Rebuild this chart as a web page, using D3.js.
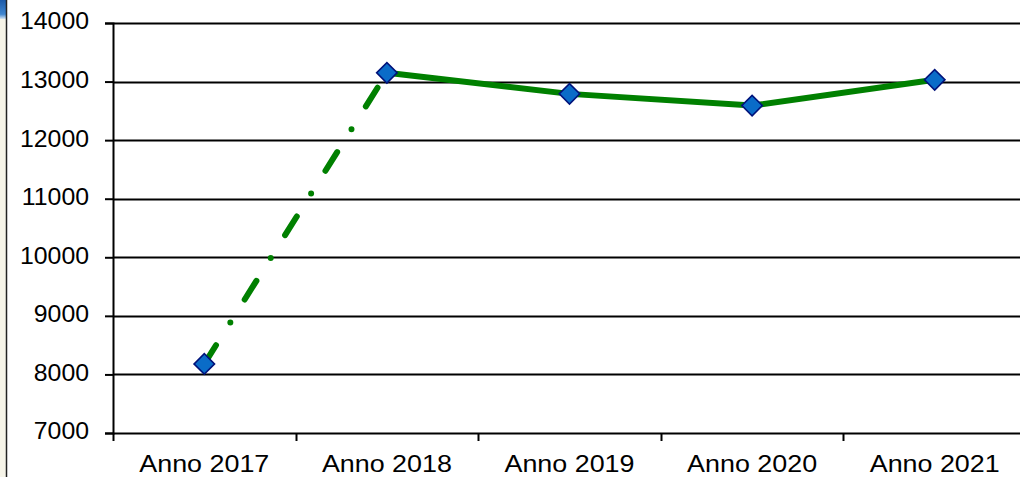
<!DOCTYPE html>
<html>
<head>
<meta charset="utf-8">
<script src="https://cdn.jsdelivr.net/npm/d3@7"></script>
<style>
  html, body { margin: 0; padding: 0; background: #fff; overflow: hidden; }
  svg { display: block; }
  text { font-family: "Liberation Sans", Arial, sans-serif; fill: #000; }
</style>
</head>
<body>
<div id="chart"></div>
<script>
// Chart data
const categories = ["Anno 2017", "Anno 2018", "Anno 2019", "Anno 2020", "Anno 2021"];
const values = [8180, 13150, 12790, 12590, 13030];
const yTicks = [7000, 8000, 9000, 10000, 11000, 12000, 13000, 14000];

const width = 1020;
const height = 477;
const margin = { left: 113, top: 23, bottom: 433 };

const svg = d3.select("#chart")
  .append("svg")
  .attr("width", width)
  .attr("height", height);

// left strip from the source window
svg.append("rect").attr("x", 0).attr("y", 0).attr("width", 6).attr("height", height).attr("fill", "#f6f4e8");
const grad = svg.append("defs").append("linearGradient")
  .attr("id", "corner").attr("x1", 0).attr("y1", 0).attr("x2", 0).attr("y2", 1);
grad.append("stop").attr("offset", "0%").attr("stop-color", "#1c5aa8");
grad.append("stop").attr("offset", "75%").attr("stop-color", "#3f86d0");
grad.append("stop").attr("offset", "100%").attr("stop-color", "#d8e6f2");
svg.append("rect").attr("x", 0).attr("y", 0).attr("width", 6).attr("height", 19).attr("fill", "url(#corner)");
svg.append("line").attr("x1", 6.5).attr("x2", 6.5).attr("y1", 0).attr("y2", height)
  .attr("stroke", "#222").attr("stroke-width", 1.5);

// scales
const x = d3.scaleBand()
  .domain(categories)
  .range([margin.left, margin.left + 5 * 182.6]);

const y = d3.scaleLinear()
  .domain([7000, 14000])
  .range([margin.bottom, margin.top]);

// gridlines
svg.append("g")
  .selectAll("line")
  .data(yTicks.slice(1))
  .enter()
  .append("line")
  .attr("x1", margin.left)
  .attr("x2", width)
  .attr("y1", d => Math.round(y(d)) + 0.5)
  .attr("y2", d => Math.round(y(d)) + 0.5)
  .attr("stroke", "#000")
  .attr("stroke-width", 2);

// y axis
const yAxis = svg.append("g")
  .attr("transform", `translate(${margin.left},0)`)
  .call(d3.axisLeft(y).tickValues(yTicks).tickSize(8).tickFormat(d3.format("d")));
yAxis.select(".domain").attr("stroke", "#000").attr("stroke-width", 2);
yAxis.selectAll(".tick line").attr("stroke", "#000").attr("stroke-width", 2);
yAxis.selectAll(".tick text")
  .attr("x", -22.2)
  .attr("dy", "0.26em")
  .style("font-size", "23px")
  .attr("transform", "scale(1.08,1)");

// x axis
const xAxis = svg.append("g")
  .attr("transform", `translate(0,${Math.round(margin.bottom) + 0.5})`)
  .call(d3.axisBottom(x).tickSize(0).tickSizeOuter(0));
xAxis.select(".domain").attr("stroke", "#000").attr("stroke-width", 2)
  .attr("d", `M${margin.left},0H${width}`);
xAxis.selectAll(".tick text")
  .attr("y", 0)
  .attr("x", 0)
  .attr("dy", 38.5)
  .attr("text-anchor", "middle")
  .style("font-size", "24px")
  .attr("transform", "scale(1.12,1)");

// category boundary ticks
const bounds = categories.map(c => x(c)).concat([x(categories[4]) + x.bandwidth()]);
svg.append("g")
  .selectAll("line")
  .data(bounds)
  .enter()
  .append("line")
  .attr("x1", d => Math.round(d) + 0.5)
  .attr("x2", d => Math.round(d) + 0.5)
  .attr("y1", margin.bottom)
  .attr("y2", margin.bottom + 8)
  .attr("stroke", "#000")
  .attr("stroke-width", 2);

// series
const pts = categories.map((c, i) => ({ c: c, v: values[i] }));
const line = d3.line()
  .x(d => x(d.c) + x.bandwidth() / 2)
  .y(d => y(d.v));

svg.append("path")
  .datum(pts.slice(0, 2))
  .attr("d", line)
  .attr("fill", "none")
  .attr("stroke", "#008000")
  .attr("stroke-width", 6)
  .attr("stroke-linecap", "round")
  .attr("stroke-dasharray", "22,27,0,27");

svg.append("path")
  .datum(pts.slice(1))
  .attr("d", line)
  .attr("fill", "none")
  .attr("stroke", "#008000")
  .attr("stroke-width", 6)
  .attr("stroke-linejoin", "round");

// diamond markers
svg.append("g")
  .selectAll("path")
  .data(pts)
  .enter()
  .append("path")
  .attr("d", d3.symbol().type(d3.symbolSquare).size(210))
  .attr("transform", d => `translate(${x(d.c) + x.bandwidth() / 2},${y(d.v)}) rotate(45)`)
  .attr("fill", "#0a6cc8")
  .attr("stroke", "#00127a")
  .attr("stroke-width", 1.6);
</script>
</body>
</html>
